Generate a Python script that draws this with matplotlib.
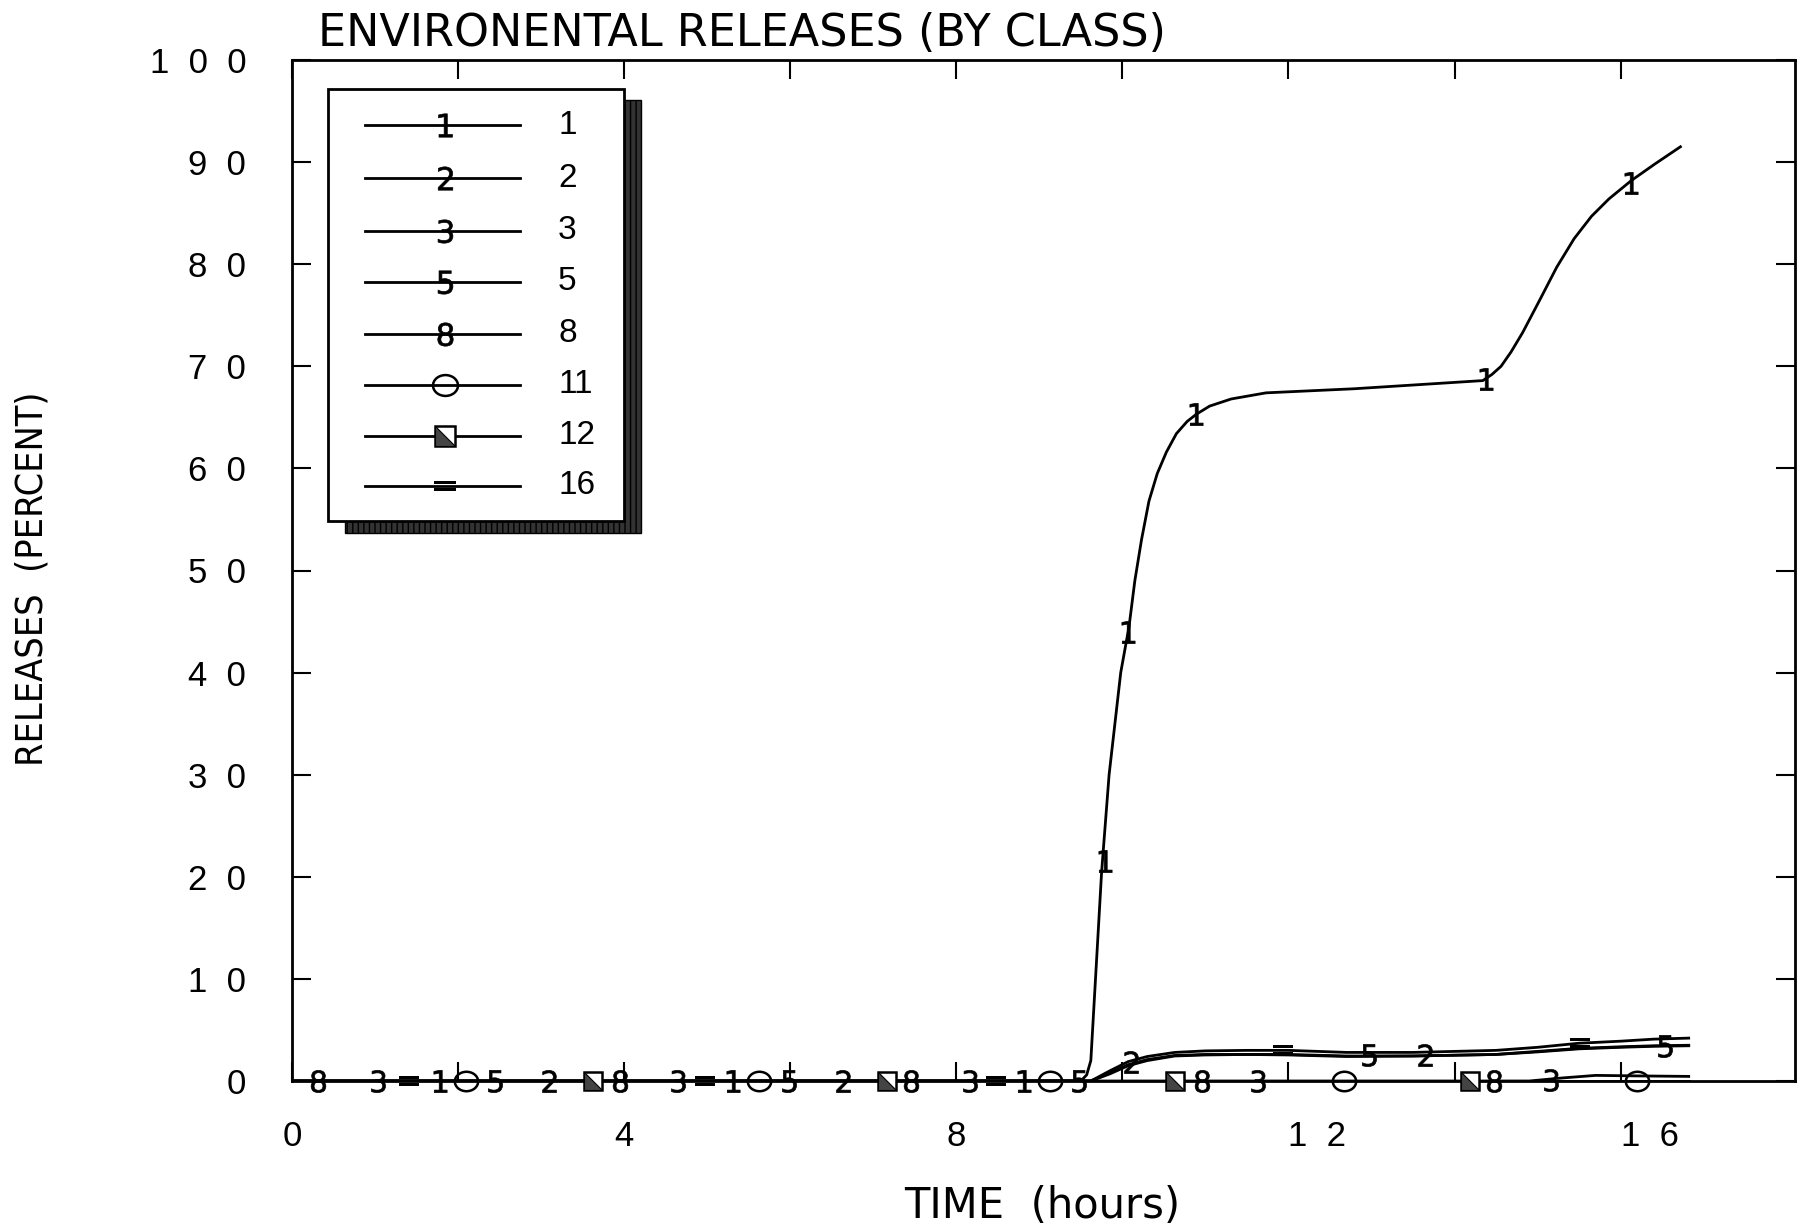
import matplotlib
matplotlib.use("Agg")
import matplotlib.pyplot as plt
from matplotlib import font_manager
from matplotlib.markers import MarkerStyle
from matplotlib.patches import Rectangle
from matplotlib.path import Path
from matplotlib.transforms import Affine2D

# --- datos (horas, porcentaje) ---
clases = ["1", "2", "3", "5", "8", "11", "12", "16"]

t_c1 = [0.0, 9.50, 9.57, 9.62, 9.75, 9.84, 9.98, 10.08, 10.15, 10.23, 10.32, 10.42,
        10.53, 10.65, 10.78, 10.89, 11.05, 11.31, 11.73, 12.79, 14.34, 14.45, 14.56,
        14.68, 14.82, 15.02, 15.23, 15.44, 15.65, 15.86, 16.13, 16.41, 16.72]
r_c1 = [0.0, 0.0, 0.6, 2.0, 20.5, 30.0, 40.0, 44.5, 49.0, 53.0, 56.8, 59.5,
        61.6, 63.4, 64.6, 65.3, 66.1, 66.8, 67.4, 67.8, 68.6, 69.2, 70.0,
        71.4, 73.3, 76.4, 79.7, 82.5, 84.7, 86.4, 88.2, 89.8, 91.5]

t_pair = [0.0, 9.62, 9.85, 10.07, 10.30, 10.63, 11.0, 11.5, 12.0, 12.7, 13.5, 14.5,
          15.0, 15.5, 16.0, 16.4, 16.82]
r_c16 = [0.0, 0.0, 1.0, 1.9, 2.4, 2.8, 2.95, 3.0, 3.0, 2.8, 2.8, 3.0,
         3.3, 3.7, 3.9, 4.1, 4.2]
r_c2 = [0.0, 0.0, 0.8, 1.6, 2.1, 2.5, 2.6, 2.6, 2.6, 2.45, 2.45, 2.6,
        2.9, 3.2, 3.35, 3.45, 3.5]
r_c5 = [0.0, 0.0, 0.7, 1.5, 2.0, 2.45, 2.55, 2.6, 2.55, 2.4, 2.45, 2.6,
        2.85, 3.15, 3.3, 3.4, 3.45]

t_c3 = [0.0, 14.9, 15.3, 15.7, 16.2, 16.82]
r_c3 = [0.0, 0.0, 0.3, 0.55, 0.5, 0.45]

t_cero = [0.0, 16.82]   # clases 8, 11, 12
r_cero = [0.0, 0.0]

# posiciones de los simbolos sobre cada curva
mk1_t = [1.78, 5.31, 8.81, 9.79, 10.07, 10.89, 14.38, 16.12]
mk1_r = [0, 0, 0, 21.5, 44.0, 65.3, 68.8, 88.0]
mk2_t = [3.09, 6.63, 10.10, 13.64]
mk2_r = [0, 0, 1.9, 2.55]
mk3_t = [1.04, 4.65, 8.16, 11.63, 15.16]
mk3_r = [0, 0, 0, 0, 0.1]
mk5_t = [2.44, 5.98, 9.48, 12.97, 16.53]
mk5_r = [0, 0, 0, 2.5, 3.45]
mk8_t = [0.31, 3.95, 7.46, 10.96, 14.47]
mk8_r = [0, 0, 0, 0, 0]
mk11_t = [2.09, 5.62, 9.13, 12.67, 16.20]
mk11_r = [0, 0, 0, 0, 0]
mk12_t = [3.63, 7.16, 10.63, 14.19]
mk12_r = [0, 0, 0, 0]
mk16_t = [1.41, 4.97, 8.48, 11.94, 15.51]
mk16_r = [0, 0, 0, 3.0, 3.7]

xticks = [0, 4, 8, 12, 16]
xticks_menor = [2, 6, 10, 14]
yticks = list(range(0, 101, 10))

# --- fuentes ---
disponibles = {f.name for f in font_manager.fontManager.ttflist}
normal = "Liberation Sans" if "Liberation Sans" in disponibles else "DejaVu Sans"
hay_condensada = any(f.name == "DejaVu Sans" and f.stretch == "condensed"
                     for f in font_manager.fontManager.ttflist)

def espaciado(n):
    return "  ".join(str(n))

# --- simbolos ---
circulo = MarkerStyle("o", fillstyle="none", transform=Affine2D().scale(1.2, 1.0))
triangulo = Path([(-1, 1), (-1, -1), (1, -1), (-1, 1)],
                 [Path.MOVETO, Path.LINETO, Path.LINETO, Path.CLOSEPOLY])

estilos = {
    "1": dict(marker="$1$", ms=16, mew=0.5),
    "2": dict(marker="$2$", ms=16, mew=0.5),
    "3": dict(marker="$3$", ms=16, mew=0.5),
    "5": dict(marker="$5$", ms=16, mew=0.5),
    "8": dict(marker="$8$", ms=16, mew=0.5),
    "16": dict(marker="$=$", ms=15, mew=0),
}

fig = plt.figure(figsize=(18.03, 12.28), dpi=100)
ax = fig.add_axes([292 / 1803, 1 - 1081 / 1228, 1503 / 1803, 1021 / 1228])

lw = 2.0
ax.plot(t_c1, r_c1, color="black", lw=lw)
ax.plot(t_pair, r_c2, color="black", lw=lw)
ax.plot(t_pair, r_c5, color="black", lw=lw)
ax.plot(t_pair, r_c16, color="black", lw=lw)
ax.plot(t_c3, r_c3, color="black", lw=lw)
for _ in range(3):
    ax.plot(t_cero, r_cero, color="black", lw=lw)

marcas = {
    "1": (mk1_t, mk1_r), "2": (mk2_t, mk2_r), "3": (mk3_t, mk3_r),
    "5": (mk5_t, mk5_r), "8": (mk8_t, mk8_r), "16": (mk16_t, mk16_r),
}
for c, (mt, mr) in marcas.items():
    ax.plot(mt, mr, ls="none", color="black", mec="black", zorder=4,
            clip_on=False, **estilos[c])
ax.plot(mk11_t, mk11_r, ls="none", marker=circulo, ms=14, mec="black", mew=1.8,
        zorder=4, clip_on=False)
ax.plot(mk12_t, mk12_r, ls="none", marker="s", ms=13, mfc="white", mec="black", mew=1.8,
        zorder=4, clip_on=False)
ax.plot(mk12_t, mk12_r, ls="none", marker=triangulo, ms=13, mfc="#444444", mec="black",
        mew=0.8, zorder=5, clip_on=False)

ax.set_xlim(0, 18.1)
ax.set_ylim(0, 100)
ax.set_xticks(xticks)
ax.set_xticklabels([espaciado(v) for v in xticks])
ax.set_xticks(xticks_menor, minor=True)
ax.set_yticks(yticks)
ax.set_yticklabels([espaciado(v) for v in yticks])
for lab in ax.get_xticklabels():
    if len(lab.get_text()) > 1:
        lab.set_horizontalalignment("left")
ax.tick_params(which="both", direction="in", length=14, width=1.5, top=True, right=True)
ax.tick_params(axis="x", pad=28, labelsize=25)
ax.tick_params(axis="y", pad=33, labelsize=25)
for lab in ax.get_xticklabels() + ax.get_yticklabels():
    lab.set_family(normal)
for s in ax.spines.values():
    s.set_linewidth(2)

# --- leyenda dibujada a mano con sombra rayada ---
x0, y0, w, h = 0.024, 0.548, 0.197, 0.424
ax.add_patch(Rectangle((x0 + 0.0113, y0 - 0.0108), w, h, transform=ax.transAxes,
                       facecolor="#333333", edgecolor="black", hatch="|||", lw=1, zorder=6))
ax.add_patch(Rectangle((x0, y0), w, h, transform=ax.transAxes,
                       facecolor="white", edgecolor="black", lw=2, zorder=7))
filas_y = [0.936, 0.884, 0.833, 0.783, 0.732, 0.682, 0.632, 0.583]
for c, fy in zip(clases, filas_y):
    ax.plot([0.0486, 0.1517], [fy, fy], transform=ax.transAxes, color="black", lw=lw, zorder=8)
    if c == "11":
        ax.plot([0.1018], [fy], transform=ax.transAxes, ls="none", marker=circulo, ms=15,
                mec="black", mew=1.8, zorder=9)
    elif c == "12":
        ax.plot([0.1018], [fy], transform=ax.transAxes, ls="none", marker="s", ms=14,
                mfc="white", mec="black", mew=1.8, zorder=9)
        ax.plot([0.1018], [fy], transform=ax.transAxes, ls="none", marker=triangulo, ms=14,
                mfc="#444444", mec="black", mew=0.8, zorder=10)
    else:
        est = dict(estilos[c])
        est["ms"] = est["ms"] * 1.05
        ax.plot([0.1018], [fy], transform=ax.transAxes, ls="none", color="black",
                mec="black", zorder=9, **est)
    ax.text(0.177, fy, c, transform=ax.transAxes, fontsize=24, family=normal,
            va="center", ha="left", zorder=9)

# --- textos ---
fig.text(318 / 1803, 1 - 46 / 1228, "ENVIRONENTAL RELEASES (BY CLASS)", fontsize=32,
         family="DejaVu Sans", va="baseline", ha="left")
fig.text(1042 / 1803, 1 - 1218 / 1228, "TIME  (hours)", fontsize=30,
         family="DejaVu Sans", va="baseline", ha="center")
if hay_condensada:
    fig.text(33 / 1803, 1 - 579 / 1228, "RELEASES  (PERCENT)", fontsize=27,
             family="DejaVu Sans", fontstretch="condensed", rotation=90,
             va="center", ha="center")
else:
    fig.text(33 / 1803, 1 - 579 / 1228, "RELEASES  (PERCENT)", fontsize=24.5,
             family="DejaVu Sans", rotation=90, va="center", ha="center")

fig.savefig("out.png", dpi=100)
